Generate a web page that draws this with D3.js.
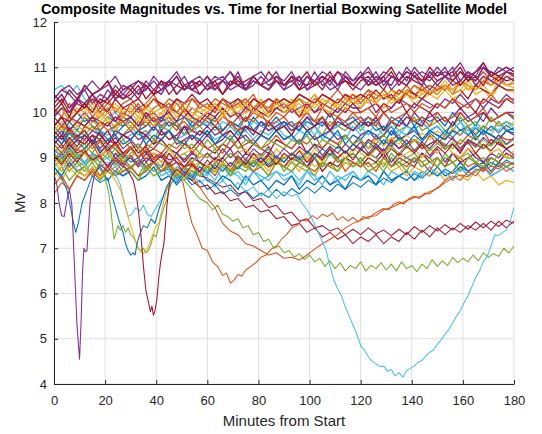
<!DOCTYPE html>
<html>
<head>
<meta charset="utf-8">
<script src="https://cdn.jsdelivr.net/npm/d3@7"></script>
<style>
body { margin: 0; background: #fff; }
svg text { font-family: "Liberation Sans", Arial, sans-serif; }
</style>
</head>
<body>
<svg width="542" height="434"></svg>
<script>
// sample times (minutes) for the band traces
var minutes = [0,3,6,9,12,15,18,21,24,27,30,33,36,39,42,45,48,51,54,57,60,63,66,69,72,75,78,81,84,87,90,93,96,99,102,105,108,111,114,117,120,123,126,129,132,135,138,141,144,147,150,153,156,159,162,165,168,171,174,177,180];
var xTicks = [0,20,40,60,80,100,120,140,160,180];
var yTicks = [4,5,6,7,8,9,10,11,12];

// matlab default colour order
var palette = {
    blue: "#0072BD", orange: "#D95319", yellow: "#EDB120", purple: "#7E2F8E",
    green: "#77AC30", cyan: "#4DBEEE", red: "#A2142F"
};

// top group (~10.5 - 11)
var topGroup = [
    [10.3,10.5,10.4,10.2,10.6,10.4,10.5,10.7,10.3,10.5, 10.6,10.4,10.7,10.5,10.4,10.7,10.6,10.8,10.5,10.6, 10.8,10.5,10.7,10.6,10.9,10.5,10.6,10.8,10.6,10.7, 10.5,10.8,10.7,10.6,10.9,10.6,10.7,10.5,10.8,10.7, 10.9,10.6,10.8,10.7,10.6,10.9,10.7,11.0,10.8,10.7, 10.9,10.8,11.0,10.7,10.9,10.8,11.1,10.8,10.9,11.0, 10.9],
    [10.0,10.2,9.9,10.3,10.1,10.4,10.2,10.3,10.5,10.3, 10.4,10.6,10.3,10.5,10.7,10.4,10.6,10.5,10.7,10.4, 10.6,10.7,10.4,10.6,10.8,10.5,10.7,10.6,10.5,10.8, 10.6,10.7,10.5,10.8,10.6,10.7,10.9,10.6,10.7,10.5, 10.7,10.8,10.6,10.7,10.9,10.6,10.8,10.7,10.6,10.9, 10.7,10.8,10.9,10.6,10.8,10.7,11.0,10.8,10.7,10.9, 10.8],
    [9.9,10.1,10.0,10.3,10.2,10.4,10.2,10.5,10.3,10.4, 10.6,10.4,10.5,10.7,10.5,10.6,10.8,10.5,10.6,10.7, 10.5,10.7,10.8,10.6,10.7,10.5,10.8,10.6,10.7,10.9, 10.6,10.7,10.8,10.5,10.7,10.8,10.6,10.9,10.7,10.6, 10.8,10.7,10.9,10.6,10.8,10.7,10.9,10.8,10.6,10.9, 10.8,11.0,10.7,10.9,10.8,10.7,11.0,10.9,10.8,10.9, 10.85],
    [9.7,9.9,9.8,10.0,10.2,10.0,10.3,10.2,10.4,10.3, 10.5,10.3,10.6,10.4,10.5,10.7,10.4,10.6,10.5,10.7, 10.5,10.6,10.4,10.7,10.6,10.5,10.8,10.6,10.5,10.7, 10.6,10.8,10.5,10.6,10.7,10.5,10.8,10.6,10.7,10.6, 10.8,10.6,10.7,10.5,10.8,10.7,10.6,10.9,10.7,10.8, 10.6,10.8,10.7,10.9,10.7,10.8,10.6,10.9,10.8,10.7, 10.75],
    [10.2,10.4,10.1,10.3,10.5,10.2,10.4,10.3,10.6,10.4, 10.3,10.5,10.6,10.4,10.5,10.7,10.4,10.6,10.5,10.4, 10.6,10.5,10.7,10.5,10.6,10.5,10.7,10.6,10.5,10.7, 10.5,10.6,10.8,10.5,10.6,10.7,10.5,10.6,10.8,10.6, 10.5,10.7,10.6,10.8,10.5,10.7,10.6,10.8,10.7,10.5, 10.7,10.8,10.6,10.7,10.9,10.6,10.8,10.7,10.6,10.8, 10.7],
    [10.4,10.2,10.5,10.3,10.6,10.4,10.5,10.7,10.4,10.6, 10.5,10.7,10.6,10.4,10.7,10.6,10.8,10.5,10.7,10.6, 10.8,10.6,10.7,10.9,10.6,10.7,10.8,10.6,10.9,10.7, 10.6,10.8,10.7,10.9,10.6,10.8,10.7,10.9,10.8,10.6, 10.8,10.9,10.7,10.8,11.0,10.7,10.9,10.8,10.7,11.0, 10.8,10.9,10.8,11.0,10.7,10.9,11.1,10.8,10.9,11.0, 10.9],
    [10.3,10.5,10.6,10.4,10.5,10.7,10.5,10.6,10.8,10.5, 10.6,10.7,10.5,10.8,10.6,10.7,10.9,10.6,10.7,10.8, 10.6,10.8,10.7,10.9,10.7,10.6,10.8,10.9,10.7,10.8, 10.7,10.9,10.6,10.8,10.7,10.9,10.8,10.6,10.9,10.7, 10.8,11.0,10.7,10.9,10.8,10.7,11.0,10.8,10.9,10.8, 11.0,10.8,10.9,11.1,10.8,10.9,11.0,10.8,11.0,10.9, 11.0]
];
var topColors = ["purple", "red", "purple", "red", "purple", "red", "purple"];

// orange / yellow group (~9.6 - 10.9)
var orangeGroup = [
    [9.9,10.1,9.8,10.0,10.2,9.9,10.1,10.0,9.8,10.1, 10.0,10.2,9.9,10.1,10.2,10.0,10.3,10.1,9.9,10.2, 10.1,10.0,10.3,10.1,10.2,10.0,10.3,10.2,10.1,10.3, 10.2,10.1,10.3,10.2,10.4,10.1,10.3,10.2,10.4,10.2, 10.3,10.5,10.2,10.4,10.3,10.5,10.4,10.3,10.6,10.4, 10.5,10.6,10.4,10.7,10.5,10.6,10.8,10.6,10.7,10.8, 10.7],
    [9.8,9.6,9.9,9.7,9.9,9.8,10.0,9.8,9.7,10.0, 9.9,10.1,9.8,10.0,10.1,9.9,10.2,10.0,9.9,10.1, 10.0,10.2,10.1,9.9,10.2,10.0,10.1,10.3,10.0,10.2, 10.1,10.3,10.0,10.2,10.1,10.3,10.2,10.1,10.3,10.2, 10.2,10.4,10.3,10.5,10.3,10.4,10.6,10.4,10.5,10.6, 10.5,10.7,10.5,10.6,10.8,10.6,10.7,10.9,10.7,10.8, 10.8],
    [10.2,10.4,10.1,10.3,10.2,10.4,10.1,10.3,10.0,10.2, 10.3,10.1,10.2,10.4,10.1,10.3,10.2,10.0,10.3,10.2, 10.1,10.3,10.2,10.1,10.3,10.2,10.4,10.1,10.3,10.2, 10.3,10.2,10.4,10.3,10.2,10.4,10.3,10.5,10.3,10.4, 10.3,10.5,10.4,10.3,10.5,10.4,10.6,10.4,10.5,10.6, 10.5,10.6,10.5,10.7,10.6,10.5,10.7,10.6,10.8,10.6, 10.65],
    [9.6,9.8,9.5,9.7,9.6,9.8,9.7,9.9,9.6,9.8, 9.7,9.9,9.8,9.7,10.0,9.8,9.9,10.0,9.8,9.9, 10.0,9.8,9.9,10.1,9.9,10.0,10.1,9.9,10.0,10.1, 10.0,10.2,9.9,10.1,10.0,10.2,10.1,10.0,10.2,10.1, 10.1,10.3,10.2,10.1,10.3,10.2,10.4,10.2,10.3,10.4, 10.3,10.5,10.3,10.4,10.6,10.4,10.5,10.3,10.6,10.5, 10.45],
    [9.7,9.9,9.6,9.8,9.7,9.9,9.8,9.7,9.9,9.8, 9.9,9.7,10.0,9.8,9.9,10.0,9.8,10.1,9.9,9.8, 10.0,9.9,10.1,9.9,10.0,9.8,10.1,10.0,9.9,10.1, 10.0,10.1,9.9,10.2,10.0,10.1,9.9,10.1,10.0,10.2, 10.0,10.1,10.2,10.0,10.1,10.3,10.0,10.2,10.1,10.0, 10.2,10.1,10.3,10.1,10.2,10.0,10.3,10.2,10.1,10.3, 10.2],
    [9.9,9.7,9.9,9.8,10.0,9.8,9.9,10.1,9.8,10.0, 9.9,10.1,9.9,10.0,9.8,10.1,10.0,9.9,10.1,10.0, 9.9,10.1,10.0,10.2,9.9,10.1,10.0,10.2,10.0,10.1, 10.2,10.0,10.1,10.2,10.0,10.2,10.1,10.0,10.2,10.1, 10.1,10.3,10.0,10.2,10.1,10.3,10.2,10.1,10.3,10.2, 10.1,10.3,10.2,10.4,10.2,10.3,10.1,10.3,10.2,10.4, 10.25],
    [9.5,9.7,9.6,9.4,9.7,9.6,9.8,9.6,9.7,9.8, 9.6,9.8,9.7,9.9,9.7,9.8,9.6,9.9,9.8,9.7, 9.9,9.8,10.0,9.7,9.9,9.8,10.0,9.9,9.8,10.0, 9.9,10.1,9.9,10.0,9.8,10.1,10.0,9.9,10.1,10.0, 10.0,10.1,9.9,10.2,10.0,10.1,10.2,10.0,10.2,10.1, 10.2,10.1,10.3,10.2,10.1,10.3,10.2,10.4,10.2,10.3, 10.3],
    [10.0,10.2,9.9,10.1,10.0,10.2,9.9,10.1,10.2,10.0, 10.1,9.9,10.2,10.0,10.1,10.2,10.0,10.2,10.1,10.0, 10.1,10.2,10.0,10.2,10.1,10.3,10.1,10.2,10.0,10.3, 10.2,10.1,10.3,10.2,10.4,10.2,10.3,10.1,10.3,10.4, 10.3,10.2,10.4,10.3,10.5,10.3,10.4,10.6,10.4,10.5, 10.4,10.6,10.5,10.7,10.5,10.6,10.8,10.6,10.7,10.6, 10.7],
    [10.1,10.3,10.0,10.2,10.1,10.3,10.2,10.0,10.3,10.1, 10.2,10.3,10.1,10.3,10.2,10.1,10.3,10.2,10.4,10.2, 10.3,10.1,10.3,10.2,10.3,10.1,10.3,10.2,10.3,10.2, 10.3,10.2,10.4,10.3,10.2,10.4,10.3,10.2,10.4,10.3, 10.4,10.3,10.5,10.3,10.4,10.2,10.5,10.4,10.3,10.5, 10.4,10.6,10.4,10.5,10.3,10.6,10.5,10.4,10.6,10.5, 10.5],
    [10.1,9.9,10.2,10.0,10.1,10.3,10.0,10.2,10.1,9.9, 10.2,10.0,10.1,10.3,10.1,10.2,10.0,10.2,10.3,10.1, 10.2,10.0,10.3,10.1,10.2,10.3,10.1,10.2,10.0,10.3, 10.1,10.2,10.3,10.1,10.3,10.2,10.1,10.3,10.2,10.4, 10.2,10.4,10.3,10.5,10.3,10.5,10.4,10.6,10.5,10.4, 10.6,10.5,10.7,10.6,10.8,10.7,10.9,10.7,10.8,10.9, 10.85],
    [9.9,10.1,9.8,10.0,9.9,10.1,9.8,10.0,10.1,9.9, 10.0,9.8,10.1,9.9,10.0,10.1,9.9,10.1,10.0,9.9, 10.0,10.2,9.9,10.1,10.0,10.2,10.0,10.1,9.9,10.2, 10.0,10.1,10.2,10.0,10.2,10.1,10.0,10.2,10.1,10.3, 10.1,10.3,10.2,10.4,10.2,10.3,10.5,10.3,10.4,10.5, 10.4,10.6,10.4,10.5,10.7,10.5,10.6,10.4,10.7,10.6, 10.55]
];
var orangeColors = ["orange", "yellow", "orange", "yellow", "red", "purple", "orange", "yellow", "red", "orange", "yellow"];

// middle group (~9.0 - 10.0)
var midGroup = [
    [9.7,9.5,9.8,9.6,9.9,9.7,9.6,9.8,9.5,9.7, 9.8,9.6,9.7,9.9,9.6,9.8,9.7,9.5,9.8,9.7, 9.9,9.7,9.6,9.8,9.7,9.9,9.6,9.8,9.7,9.9, 9.7,9.8,9.6,9.9,9.8,9.7,10.0,9.7,9.8,9.9, 9.7,9.9,9.8,9.6,9.9,9.8,10.0,9.7,9.9,9.8, 9.9,9.7,10.0,9.8,9.9,9.7,10.0,9.8,9.9,10.0, 9.85],
    [9.5,9.7,9.4,9.6,9.5,9.7,9.5,9.3,9.6,9.5, 9.7,9.5,9.6,9.4,9.7,9.6,9.8,9.5,9.6,9.7, 9.5,9.7,9.6,9.8,9.5,9.7,9.6,9.5,9.8,9.6, 9.7,9.5,9.8,9.6,9.7,9.5,9.8,9.7,9.6,9.8, 9.6,9.8,9.7,9.5,9.8,9.6,9.7,9.9,9.6,9.7, 9.8,9.6,9.7,9.9,9.7,9.8,9.6,9.9,9.7,9.8, 9.72],
    [9.6,9.4,9.7,9.5,9.6,9.3,9.6,9.5,9.7,9.4, 9.5,9.6,9.4,9.7,9.5,9.6,9.4,9.5,9.7,9.5, 9.6,9.4,9.5,9.7,9.5,9.6,9.4,9.6,9.5,9.7, 9.5,9.4,9.6,9.5,9.7,9.4,9.6,9.5,9.4,9.7, 9.5,9.6,9.4,9.7,9.5,9.6,9.5,9.7,9.4,9.6, 9.7,9.5,9.6,9.8,9.5,9.7,9.6,9.5,9.8,9.6, 9.65],
    [9.3,9.5,9.2,9.4,9.3,9.5,9.2,9.4,9.3,9.5, 9.4,9.2,9.5,9.3,9.4,9.6,9.3,9.4,9.5,9.3, 9.5,9.3,9.4,9.6,9.4,9.5,9.3,9.5,9.4,9.6, 9.4,9.5,9.3,9.6,9.4,9.5,9.6,9.4,9.5,9.3, 9.5,9.6,9.4,9.5,9.7,9.4,9.5,9.6,9.4,9.6, 9.5,9.4,9.6,9.5,9.7,9.4,9.6,9.5,9.4,9.6, 9.5],
    [9.2,9.0,9.3,9.1,9.2,9.4,9.1,9.3,9.2,9.0, 9.2,9.3,9.1,9.2,9.4,9.2,9.1,9.3,9.2,9.4, 9.2,9.1,9.3,9.2,9.4,9.1,9.3,9.2,9.1,9.4, 9.3,9.2,9.4,9.1,9.3,9.2,9.4,9.3,9.1,9.3, 9.2,9.4,9.3,9.1,9.4,9.2,9.3,9.4,9.2,9.3, 9.4,9.2,9.3,9.1,9.4,9.3,9.2,9.4,9.3,9.2, 9.3],
    [9.9,10.1,9.8,10.0,9.8,9.9,9.7,9.9,9.8,9.7, 9.9,9.7,9.8,9.6,9.9,9.7,9.8,9.9,9.7,9.8, 9.7,9.9,9.6,9.8,9.7,9.6,9.9,9.7,9.8,9.6, 9.8,9.7,9.6,9.8,9.7,9.9,9.6,9.7,9.8,9.6, 9.7,9.8,9.6,9.7,9.5,9.8,9.7,9.6,9.8,9.6, 9.7,9.5,9.8,9.6,9.7,9.5,9.7,9.6,9.8,9.6, 9.65],
    [9.1,8.9,9.2,9.0,9.2,8.9,9.1,9.0,9.2,8.9, 9.1,9.2,9.0,9.1,8.9,9.2,9.0,9.1,8.9,9.1, 9.0,9.2,8.9,9.1,9.0,8.8,9.1,9.0,9.2,8.9, 9.0,9.1,8.9,9.1,9.0,8.8,9.1,8.9,9.0,9.1, 8.9,9.1,9.0,8.8,9.1,8.9,9.0,9.1,8.9,9.0, 8.8,9.1,8.9,9.0,9.1,8.9,9.0,8.8,9.1,9.0, 8.98],
    [9.1,9.3,9.0,9.2,9.1,9.3,9.0,9.2,9.3,9.1, 9.2,9.0,9.3,9.2,9.1,9.3,9.2,9.4,9.1,9.3, 9.2,9.3,9.1,9.4,9.2,9.3,9.4,9.2,9.3,9.5, 9.3,9.2,9.4,9.3,9.5,9.2,9.4,9.3,9.5,9.3, 9.4,9.2,9.5,9.3,9.4,9.5,9.3,9.4,9.2,9.5, 9.3,9.5,9.4,9.3,9.5,9.4,9.6,9.3,9.5,9.4, 9.4],
    [9.0,8.8,9.1,8.9,9.1,8.9,9.0,9.2,8.9,9.1, 9.0,9.2,9.0,9.1,8.9,9.2,9.0,9.1,9.2,9.0, 9.1,8.9,9.2,9.0,9.1,9.2,9.0,9.1,8.9,9.2, 9.0,9.1,9.2,9.0,9.1,8.9,9.2,9.1,9.0,9.2, 9.1,9.0,9.2,9.1,9.3,9.0,9.1,9.2,9.0,9.2, 9.1,9.3,9.1,9.0,9.2,9.1,9.3,9.1,9.2,9.0, 9.15],
    [10.5,10.6,10.4,10.6,10.3,10.1,10.0,9.9,10.0,9.8, 9.9,9.7,9.9,9.8,9.7,9.9,9.8,9.6,9.9,9.7, 9.8,9.6,9.8,9.7,9.9,9.6,9.8,9.7,9.6,9.8, 9.7,9.6,9.8,9.7,9.5,9.8,9.6,9.7,9.8,9.6, 9.7,9.5,9.8,9.6,9.7,9.5,9.7,9.6,9.8,9.6, 9.7,9.5,9.6,9.8,9.6,9.7,9.5,9.7,9.6,9.8, 9.65],
    [9.4,9.6,9.3,9.5,9.4,9.6,9.5,9.3,9.6,9.5, 9.6,9.4,9.5,9.7,9.5,9.6,9.4,9.7,9.6,9.5, 9.7,9.5,9.6,9.8,9.6,9.7,9.5,9.8,9.6,9.7, 9.8,9.6,9.7,9.9,9.7,9.8,9.6,9.9,9.7,9.8, 9.9,9.7,9.8,10.0,9.8,9.9,9.7,10.0,9.8,9.9, 10.0,9.8,9.9,10.1,9.9,10.0,9.8,10.1,9.9,10.0, 10.0],
    [9.3,9.5,9.2,9.4,9.3,9.5,9.4,9.6,9.3,9.5, 9.4,9.6,9.5,9.3,9.6,9.4,9.5,9.7,9.4,9.6, 9.5,9.7,9.5,9.6,9.4,9.7,9.6,9.5,9.8,9.6, 9.7,9.5,9.8,9.6,9.7,9.9,9.6,9.8,9.7,9.6, 9.8,9.7,9.9,9.6,9.8,9.7,9.9,9.8,9.7,10.0, 9.8,9.9,9.7,10.0,9.8,9.9,10.0,9.8,9.9,10.0, 9.9],
    [9.5,9.3,9.6,9.4,9.5,9.3,9.6,9.4,9.5,9.3, 9.4,9.6,9.3,9.5,9.4,9.6,9.4,9.3,9.5,9.4, 9.6,9.3,9.5,9.4,9.6,9.4,9.3,9.5,9.4,9.6, 9.4,9.5,9.3,9.6,9.4,9.5,9.4,9.6,9.3,9.5, 9.4,9.6,9.5,9.3,9.6,9.4,9.5,9.7,9.4,9.6, 9.5,9.4,9.6,9.5,9.7,9.4,9.6,9.5,9.4,9.6, 9.55],
    [9.3,9.1,9.4,9.2,9.3,9.1,9.4,9.3,9.2,9.4, 9.2,9.3,9.1,9.4,9.3,9.2,9.4,9.2,9.3,9.1, 9.4,9.2,9.3,9.5,9.2,9.4,9.3,9.2,9.4,9.3, 9.2,9.4,9.3,9.5,9.2,9.4,9.3,9.2,9.5,9.3, 9.4,9.2,9.3,9.5,9.3,9.4,9.2,9.4,9.3,9.2, 9.4,9.3,9.2,9.4,9.3,9.5,9.2,9.3,9.4,9.2, 9.3],
    [9.7,9.9,9.6,9.8,9.7,9.9,9.6,9.8,9.7,9.9, 9.8,9.6,9.9,9.7,9.8,9.9,9.7,9.8,9.6,9.9, 9.8,9.7,9.9,9.8,9.6,9.9,9.8,10.0,9.7,9.8, 9.9,9.7,9.8,10.0,9.8,9.9,9.7,9.9,9.8,10.0, 9.8,9.9,9.7,10.0,9.8,9.9,10.0,9.8,9.9,9.7, 10.0,9.8,9.9,10.0,9.8,9.9,10.1,9.8,9.9,10.0, 9.9]
];
var midColors = ["blue", "green", "cyan", "purple", "red", "blue", "green", "orange", "yellow", "cyan", "purple", "red", "blue", "green", "orange"];

// low group (~8.3 - 9.2)
var lowGroup = [
    [8.9,8.7,9.0,8.8,8.9,8.6,8.9,8.7,8.8,8.6, 8.8,8.6,8.7,8.9,8.6,8.7,8.5,8.8,8.6,8.7, 8.6,8.8,8.5,8.7,8.6,8.4,8.7,8.5,8.6,8.7, 8.5,8.6,8.4,8.7,8.5,8.6,8.4,8.6,8.5,8.7, 8.5,8.6,8.4,8.7,8.5,8.6,8.7,8.5,8.6,8.8, 8.6,8.7,8.5,8.8,8.6,8.7,8.8,8.6,8.7,8.8, 8.7],
    [8.8,8.6,8.9,8.7,8.8,8.6,8.8,8.5,8.7,8.6, 8.7,8.5,8.6,8.8,8.5,8.6,8.4,8.6,8.5,8.7, 8.5,8.4,8.6,8.5,8.3,8.6,8.4,8.5,8.3,8.5, 8.4,8.6,8.3,8.5,8.4,8.6,8.4,8.5,8.3,8.6, 8.5,8.6,8.4,8.7,8.5,8.6,8.7,8.5,8.7,8.6, 8.8,8.6,8.7,8.9,8.7,8.8,8.9,8.7,8.9,8.8, 8.9],
    [8.8,9.0,8.7,8.9,8.7,8.9,8.6,8.8,8.9,8.7, 8.8,8.6,8.9,8.7,8.8,8.9,8.7,8.8,8.6,8.9, 8.7,8.9,8.8,8.6,8.9,8.8,8.7,8.9,8.8,9.0, 8.7,8.9,8.8,8.7,9.0,8.8,8.9,8.7,8.9,8.8, 9.0,8.8,8.9,8.7,9.0,8.8,8.9,9.0,8.8,8.9, 8.8,9.0,8.9,8.7,9.0,8.9,8.8,9.0,8.9,8.8, 8.9],
    [8.7,8.5,8.8,8.6,8.8,8.6,8.9,8.7,8.8,9.0, 8.8,8.9,8.7,9.0,8.8,8.9,8.7,9.0,8.8,8.9, 8.8,9.0,8.7,8.9,8.8,9.0,8.8,8.9,8.7,9.0, 8.8,8.9,8.7,9.0,8.8,8.9,8.8,8.7,8.9,8.8, 8.9,8.7,8.8,8.9,8.7,8.8,8.6,8.8,8.7,8.6, 8.7,8.5,8.7,8.6,8.5,8.7,8.5,8.6,8.4,8.5, 8.45],
    [9.1,8.9,9.2,9.0,9.1,8.9,9.0,8.8,9.1,8.9, 9.0,8.8,9.0,8.9,8.8,9.1,8.9,8.8,9.0,8.9, 8.8,9.0,8.9,8.7,9.0,8.8,8.9,9.0,8.8,8.9, 8.8,9.0,8.9,8.8,9.0,8.7,8.9,8.8,9.0,8.9, 8.8,9.0,8.9,9.1,8.8,9.0,8.9,8.8,9.1,8.9, 9.0,8.8,9.1,8.9,9.0,9.1,8.9,9.0,8.9,9.1, 9.0],
    [8.9,9.1,8.8,9.0,8.9,9.1,9.0,9.2,8.9,9.1, 9.0,9.2,8.9,9.1,9.0,9.2,9.1,8.9,9.1,9.0, 9.1,8.9,9.0,9.2,8.9,9.1,9.0,8.9,9.1,9.0, 8.9,9.1,9.0,8.8,9.1,9.0,9.2,8.9,9.0,9.1, 8.9,9.1,9.0,9.2,8.9,9.1,9.0,8.9,9.1,9.0, 9.2,8.9,9.1,9.0,9.2,9.0,8.9,9.1,9.0,9.2, 9.05],
    [9.2,9.0,9.3,9.1,8.9,9.1,8.9,9.0,8.8,8.9, 8.8,8.9,8.7,8.9,8.8,8.6,8.8,8.7,8.6,8.8, 8.7,8.5,8.8,8.6,8.7,8.5,8.7,8.6,8.5,8.7, 8.6,8.7,8.5,8.7,8.6,8.4,8.7,8.5,8.6,8.7, 8.5,8.7,8.6,8.4,8.7,8.6,8.5,8.7,8.6,8.8, 8.6,8.7,8.5,8.8,8.6,8.7,8.8,8.6,8.7,8.8, 8.7],
    [8.4,8.6,8.3,8.6,8.5,8.7,8.5,8.8,8.6,8.7, 8.8,8.6,8.7,8.9,8.7,8.8,8.6,8.8,8.9,8.7, 8.8,8.6,8.9,8.7,8.8,8.9,8.7,8.8,8.6,8.9, 8.8,8.7,8.9,8.8,8.7,8.9,8.8,9.0,8.7,8.9, 8.8,8.9,8.7,9.0,8.8,8.9,8.8,9.0,8.9,8.7, 9.0,8.8,8.9,9.0,8.8,8.9,8.7,9.0,8.9,8.8, 8.9],
    [8.6,8.8,8.5,8.7,8.6,8.8,8.5,8.7,8.6,8.8, 8.7,8.5,8.8,8.6,8.7,8.9,8.6,8.8,8.7,8.6, 8.8,8.7,8.9,8.6,8.8,8.7,8.9,8.8,8.6,8.9, 8.8,8.7,8.9,8.8,8.6,8.9,8.8,8.7,9.0,8.8, 8.9,8.7,8.8,9.0,8.8,8.9,8.7,9.0,8.8,8.9, 9.0,8.8,8.9,8.7,9.0,8.9,8.8,9.0,8.9,8.8, 8.9]
];
var lowColors = ["cyan", "blue", "green", "yellow", "red", "purple", "cyan", "orange", "green"];

// traces that leave the band: [minute, magnitude]
var purpleDip = [[0,8.62],[1,8.45],[2,8.0],[3,7.72],[4,7.7],[5,8.05],[6,8.3],[7,7.95],[8,6.6],[9,5.3],[10,4.55],[10.6,5.4],[11.2,6.5],[11.7,7.0],[12.3,6.92],[12.9,6.95],[13.5,7.5],[14.2,8.05],[15,8.4],[16,8.65],[18,8.85],[21,8.7],[24,8.95],[27,8.8],[30,9.05],[33,8.85],[36,9.1],[39,8.9],[42,9.05],[45,8.85],[48,9.1],[51,8.95],[54,9.15],[57,8.9],[60,9.1],[63,8.95],[66,9.2],[69,9.0],[72,9.15],[75,8.95],[78,9.2],[81,9.05],[84,9.25],[87,9.0],[90,9.2],[93,9.05],[96,9.25],[99,9.1],[102,9.3],[105,9.05],[108,9.25],[111,9.1],[114,9.3],[117,9.15],[120,9.35],[123,9.1],[126,9.3],[129,9.15],[132,9.35],[135,9.2],[138,9.4],[141,9.15],[144,9.35],[147,9.2],[150,9.4],[153,9.25],[156,9.45],[159,9.2],[162,9.4],[165,9.25],[168,9.45],[171,9.3],[174,9.5],[177,9.3],[180,9.45]];

var redDip = [[0,9.05],[3,8.85],[6,9.1],[9,8.9],[12,9.15],[15,8.95],[18,9.05],[21,8.8],[24,9.0],[27,8.85],[29,8.7],[31,8.5],[32,8.25],[33,7.85],[34,7.3],[35,6.6],[36,6.05],[37,5.8],[37.7,5.6],[38.3,5.72],[38.9,5.52],[39.5,5.62],[40.2,5.85],[41,6.35],[41.6,6.65],[42.3,6.9],[43,7.1],[43.6,7.5],[44.2,7.95],[45,8.35],[46,8.6],[48,8.75],[51,8.6],[54,8.85],[57,8.7],[60,8.95],[63,8.75],[66,9.0],[69,8.8],[72,9.05],[75,8.85],[78,9.1],[81,8.9],[84,9.05],[87,8.85],[90,9.1],[93,8.95],[96,9.15],[99,8.9],[102,9.1],[105,8.95],[108,9.2],[111,9.0],[114,9.15],[117,8.95],[120,9.2],[123,9.05],[126,9.25],[129,9.0],[132,9.2],[135,9.05],[138,9.25],[141,9.1],[144,9.3],[147,9.05],[150,9.25],[153,9.1],[156,9.3],[159,9.15],[162,9.35],[165,9.1],[168,9.3],[171,9.15],[174,9.35],[177,9.2],[180,9.3]];

var blueDip = [[0,8.8],[3,8.55],[5,8.3],[6.5,7.9],[7.5,7.6],[8.5,7.35],[9.5,7.55],[11,8.0],[13,8.3],[15,8.6],[18,8.45],[21,8.55],[22.5,8.2],[24,7.9],[25.5,7.6],[27,7.35],[28,7.1],[29,6.95],[30,6.85],[31,6.9],[31.7,6.85],[32.5,7.1],[33.5,7.3],[35,7.5],[36.5,7.45],[38,7.65],[39.5,7.55],[41,7.85],[42.5,8.1],[44,8.35],[46,8.55],[48,8.45],[51,8.7],[54,8.55],[57,8.8],[60,8.65],[63,8.85],[66,8.7],[69,8.9],[72,8.75],[75,8.95],[78,8.8],[81,9.0],[84,8.85],[87,9.05],[90,8.9],[93,9.1],[96,8.95],[99,9.15],[102,9.0],[105,9.2],[108,9.05],[111,9.25],[114,9.1],[117,9.3],[120,9.15],[123,9.35],[126,9.2],[129,9.4],[132,9.25],[135,9.45],[138,9.3],[141,9.5],[144,9.35],[147,9.55],[150,9.4],[153,9.6],[156,9.45],[159,9.62],[162,9.5],[165,9.65],[168,9.52],[171,9.7],[174,9.55],[177,9.72],[180,9.6]];

var yellowDip = [[0,8.9],[3,8.7],[6,8.95],[9,8.75],[12,8.6],[15,8.8],[18,8.55],[21,8.7],[24,8.5],[26,8.3],[27.5,8.0],[29,7.7],[30.5,7.4],[32,7.15],[33,7.0],[34,6.92],[35,6.88],[36,6.95],[37,7.05],[38,7.2],[39,7.35],[40,7.5],[41,7.55],[42,7.8],[43,8.05],[44.5,8.35],[46,8.55],[48,8.7],[51,8.55],[54,8.8],[57,8.62],[60,8.85],[63,8.7],[66,8.9],[69,8.75],[72,8.95],[75,8.8],[78,9.0],[81,8.85],[84,9.05],[87,8.9],[90,9.1],[93,8.95],[96,9.15],[99,9.0],[102,9.2],[105,9.05],[108,9.25],[111,9.1],[114,9.3],[117,9.15],[120,9.35],[123,9.2],[126,9.4],[129,9.25],[132,9.45],[135,9.3],[138,9.5],[141,9.35],[144,9.55],[147,9.4],[150,9.6],[153,9.45],[156,9.65],[159,9.5],[162,9.7],[165,9.55],[168,9.72],[171,9.6],[174,9.78],[177,9.65],[180,9.8]];

var greenDip = [[0,9.1],[3,8.9],[6,9.15],[9,8.95],[12,8.8],[15,9.0],[18,8.75],[20,8.55],[21.5,8.2],[22.5,7.7],[23.5,7.2],[24.3,7.35],[25,7.5],[26,7.4],[27,7.5],[28,7.35],[29,7.45],[30,7.3],[31,7.25],[32,7.15],[33,6.98],[34,6.95],[35,7.0],[36,6.9],[37,6.95],[38,7.1],[39,7.3],[40,7.25],[41,7.5],[42,7.7],[43,7.9],[44,8.05],[45,8.3],[46.5,8.5],[48,8.65],[51,8.5],[54,8.72],[57,8.6],[60,8.8],[63,8.68],[66,8.85],[69,8.7],[72,8.9],[75,8.78],[78,8.95],[81,8.8],[84,8.98],[87,8.85],[90,9.0],[93,8.88],[96,9.05],[99,8.9],[102,9.08],[105,8.95],[108,9.1],[111,8.98],[114,9.15],[117,9.0],[120,9.18],[123,9.05],[126,9.2],[129,9.08],[132,9.25],[135,9.1],[138,9.28],[141,9.12],[144,9.3],[147,9.15],[150,9.32],[153,9.18],[156,9.35],[159,9.2],[162,9.38],[165,9.22],[168,9.4],[171,9.25],[174,9.42],[177,9.28],[180,9.4]];

var orangeDeep = [[0,8.2],[3,8.45],[6,8.3],[9,8.6],[12,8.5],[15,8.75],[18,8.6],[21,8.85],[24,8.7],[27,8.9],[30,8.75],[33,8.95],[36,8.8],[39,8.9],[42,8.7],[45,8.85],[48,8.65],[50.5,8.45],[52,8.0],[54,7.55],[56,7.3],[58,7.0],[60,6.95],[62,6.7],[64,6.6],[66,6.4],[67.5,6.45],[69,6.23],[70.5,6.3],[72,6.42],[73.5,6.38],[75,6.52],[77,6.6],[79,6.68],[81,6.8],[83,6.85],[85,6.98],[87,7.05],[89,7.2],[91,7.3],[93,7.45],[95,7.5],[97,7.62],[99,7.6],[101,7.72],[103,7.65],[105,7.75],[107,7.7],[109,7.78],[111,7.62],[113,7.7],[115,7.6],[117,7.68],[119,7.58],[121,7.7],[123,7.65],[125,7.75],[127,7.82],[129,7.88],[131,7.85],[133,7.98],[135,8.02],[137,7.98],[139,8.1],[141,8.15],[143,8.1],[145,8.22],[147,8.2],[149,8.3],[151,8.38],[153,8.5],[156,8.6],[159,8.5],[162,8.7],[165,8.6],[168,8.8],[171,8.65],[174,8.85],[177,8.7],[180,8.8]];

var orangeShallow = [[0,9.3],[3,9.1],[6,9.35],[9,9.15],[12,9.4],[15,9.2],[18,9.35],[21,9.1],[24,9.3],[27,9.05],[30,9.25],[33,9.0],[36,9.2],[39,8.95],[42,9.1],[45,8.85],[48,9.0],[51,8.75],[54,8.6],[57,8.35],[60,8.1],[63,7.9],[66,7.55],[69,7.38],[72,7.3],[75,7.1],[78,7.05],[81,6.95],[84,6.85],[87,6.9],[90,6.78],[93,6.8],[96,6.74],[99,6.85],[102,6.98],[105,7.1],[108,7.2],[111,7.3],[114,7.45],[117,7.55],[120,7.62],[123,7.7],[126,7.72],[129,7.85],[132,7.9],[135,7.98],[138,8.05],[141,8.12],[144,8.15],[147,8.25],[150,8.32],[153,8.45],[156,8.55],[159,8.62],[162,8.58],[165,8.75],[168,8.7],[171,8.82],[174,8.75],[177,8.9],[180,8.85]];

var greenLow = [[0,8.95],[3,9.15],[6,8.9],[9,9.1],[12,8.85],[15,9.05],[18,8.9],[21,9.1],[24,8.85],[27,9.0],[30,8.8],[33,8.95],[36,8.75],[39,8.9],[42,8.7],[45,8.8],[48,8.6],[51,8.5],[54,8.3],[57,8.1],[60,8.0],[62,7.85],[64,7.95],[66,7.75],[68,7.7],[70,7.6],[72,7.65],[74,7.45],[76,7.5],[78,7.3],[80,7.35],[82,7.15],[84,7.2],[86,7.0],[88,7.05],[90,6.9],[92,6.95],[94,6.8],[96,6.88],[98,6.75],[100,6.85],[102,6.7],[104,6.78],[106,6.6],[108,6.72],[110,6.55],[112,6.68],[114,6.5],[116,6.62],[118,6.55],[120,6.7],[122,6.5],[124,6.62],[126,6.55],[128,6.68],[130,6.52],[132,6.65],[134,6.5],[136,6.7],[138,6.55],[140,6.62],[142,6.48],[144,6.65],[146,6.55],[148,6.75],[150,6.6],[152,6.72],[154,6.62],[156,6.8],[158,6.68],[160,6.78],[162,6.7],[164,6.85],[166,6.72],[168,6.9],[170,6.8],[172,6.88],[174,6.82],[176,7.0],[178,6.9],[180,7.05]];

var redLowA = [[0,9.4],[3,9.2],[6,9.45],[9,9.25],[12,9.5],[15,9.3],[18,9.4],[21,9.15],[24,9.35],[27,9.1],[30,9.25],[33,9.0],[36,9.15],[39,8.9],[42,9.05],[45,8.8],[48,8.9],[51,8.65],[54,8.5],[57,8.35],[60,8.4],[63,8.2],[66,8.25],[69,8.05],[72,8.1],[75,7.9],[78,7.95],[81,7.8],[84,7.85],[87,7.65],[90,7.7],[93,7.5],[96,7.55],[99,7.35],[102,7.45],[105,7.25],[108,7.35],[111,7.2],[114,7.3],[117,7.1],[120,7.25],[123,7.15],[126,7.3],[129,7.1],[132,7.25],[135,7.15],[138,7.35],[141,7.2],[144,7.4],[147,7.25],[150,7.45],[153,7.3],[156,7.45],[159,7.35],[162,7.5],[165,7.4],[168,7.55],[171,7.4],[174,7.6],[177,7.45],[180,7.6]];

var redLowB = [[0,9.6],[3,9.4],[6,9.65],[9,9.45],[12,9.6],[15,9.35],[18,9.55],[21,9.3],[24,9.45],[27,9.2],[30,9.35],[33,9.1],[36,9.25],[39,9.0],[42,9.1],[45,8.95],[48,9.0],[51,8.8],[54,8.85],[57,8.6],[60,8.55],[63,8.45],[66,8.35],[69,8.4],[72,8.2],[75,8.25],[78,8.05],[81,8.1],[84,7.9],[87,7.95],[90,7.75],[93,7.8],[96,7.6],[99,7.65],[102,7.45],[105,7.5],[108,7.38],[111,7.45],[114,7.3],[117,7.42],[120,7.3],[123,7.45],[126,7.32],[129,7.4],[132,7.28],[135,7.42],[138,7.3],[141,7.48],[144,7.35],[147,7.5],[150,7.38],[153,7.52],[156,7.4],[159,7.55],[162,7.42],[165,7.58],[168,7.45],[171,7.6],[174,7.48],[177,7.62],[180,7.55]];

var cyanDeep = [[0,9.2],[3,9.0],[6,9.25],[9,9.05],[12,8.85],[15,9.0],[18,8.8],[21,8.9],[24,8.65],[26,8.4],[27.5,8.0],[29,7.7],[30.5,7.75],[32,7.9],[33.5,7.82],[35,7.95],[36.5,7.75],[38,7.7],[39.5,7.85],[41,8.0],[42.5,8.12],[44,8.3],[46,8.45],[48,8.6],[51,8.5],[54,8.65],[57,8.45],[60,8.55],[63,8.35],[66,8.5],[69,8.3],[72,8.45],[75,8.25],[78,8.35],[81,8.15],[84,8.3],[87,8.1],[90,8.25],[93,8.15],[95,8.2],[97,8.0],[99,7.85],[101,7.65],[103,7.4],[105,7.15],[106.5,6.95],[108,6.6],[109.5,6.3],[111,6.1],[112.5,5.95],[114,5.7],[115.5,5.5],[117,5.3],[118.5,5.1],[120,4.85],[121.5,4.75],[123,4.6],[124.5,4.5],[126,4.45],[127.5,4.38],[129,4.4],[130.5,4.28],[132,4.32],[133.5,4.18],[135,4.25],[136.5,4.15],[138,4.3],[139.5,4.35],[141,4.4],[142.5,4.48],[144,4.52],[145.5,4.62],[147,4.7],[148.5,4.75],[150,4.88],[151.5,4.98],[153,5.1],[154.5,5.2],[156,5.35],[157.5,5.5],[159,5.62],[160.5,5.8],[162,5.95],[163.5,6.15],[165,6.35],[166.5,6.5],[168,6.7],[169.5,6.82],[171,7.05],[172.5,7.3],[174,7.28],[175.5,7.35],[177,7.4],[178.5,7.6],[180,7.9]];

var blueLow = [[0,9.5],[3,9.3],[6,9.55],[9,9.35],[12,9.2],[15,9.4],[18,9.15],[21,9.25],[24,9.0],[27,9.1],[30,8.9],[33,9.0],[36,8.8],[39,8.9],[42,8.7],[45,8.75],[48,8.55],[51,8.6],[54,8.4],[57,8.5],[60,8.3],[63,8.4],[66,8.2],[69,8.3],[72,8.15],[75,8.28],[78,8.1],[81,8.22],[84,8.12],[87,8.3],[90,8.15],[93,8.32],[96,8.2],[99,8.35],[102,8.22],[105,8.38],[108,8.25],[111,8.42],[114,8.3],[117,8.45],[120,8.35],[123,8.5],[126,8.4],[129,8.55],[132,8.45],[135,8.6],[138,8.5],[141,8.65],[144,8.55],[147,8.7],[150,8.6],[153,8.75],[156,8.65],[159,8.8],[162,8.7],[165,8.85],[168,8.75],[171,8.9],[174,8.8],[177,8.95],[180,8.85]];

var outliers = [
    {color: "blue", pts: blueLow},
    {color: "red", pts: redLowB},
    {color: "red", pts: redLowA},
    {color: "green", pts: greenLow},
    {color: "orange", pts: orangeShallow},
    {color: "orange", pts: orangeDeep},
    {color: "cyan", pts: cyanDeep},
    {color: "green", pts: greenDip},
    {color: "yellow", pts: yellowDip},
    {color: "blue", pts: blueDip},
    {color: "red", pts: redDip},
    {color: "purple", pts: purpleDip}
];

var svg = d3.select("svg");
var x = d3.scaleLinear().domain([0, 180]).range([54, 514]);
var y = d3.scaleLinear().domain([4, 12]).range([384, 22]);

// grid
svg.append("g").selectAll("line").data(xTicks).enter().append("line")
    .attr("x1", function(d) { return x(d); }).attr("x2", function(d) { return x(d); })
    .attr("y1", y(4)).attr("y2", y(12))
    .attr("stroke", "#dfdfdf").attr("stroke-width", 1);
svg.append("g").selectAll("line").data(yTicks).enter().append("line")
    .attr("y1", function(d) { return y(d); }).attr("y2", function(d) { return y(d); })
    .attr("x1", x(0)).attr("x2", x(180))
    .attr("stroke", "#dfdfdf").attr("stroke-width", 1);

svg.append("clipPath").attr("id", "plotclip").append("rect")
    .attr("x", x(0)).attr("y", y(12)).attr("width", x(180) - x(0)).attr("height", y(4) - y(12));

function bandSeries(rows, colors) {
    return rows.map(function(r, i) {
        var pts = r.filter(function(v, j) { return j < minutes.length; })
            .map(function(v, j) { return [minutes[j], v]; });
        return {color: colors[i], pts: pts, band: true};
    });
}

var allSeries = []
    .concat(bandSeries(lowGroup, lowColors))
    .concat(bandSeries(midGroup, midColors))
    .concat(bandSeries(orangeGroup, orangeColors))
    .concat(bandSeries(topGroup, topColors))
    .concat(outliers);

var line = d3.line()
    .x(function(d) { return x(d[0]); })
    .y(function(d) { return y(d[1]); });

svg.append("g").attr("clip-path", "url(#plotclip)")
    .selectAll(".trace").data(allSeries).enter().append("path")
    .attr("class", "trace")
    .attr("fill", "none")
    .attr("stroke", function(d) { return palette[d.color]; })
    .attr("stroke-width", function(d) { return d.band ? 1.3 : 1.05; })
    .attr("stroke-linejoin", "round")
    .attr("d", function(d) { return line(d.pts); });

// axes, ticks pointing inward like matlab
var xAxis = d3.axisBottom(x).tickValues(xTicks).tickSizeInner(-4).tickSizeOuter(0).tickPadding(12);
var yAxis = d3.axisLeft(y).tickValues(yTicks).tickSizeInner(-4).tickSizeOuter(0).tickPadding(7);

var gx = svg.append("g").attr("transform", "translate(0," + y(4) + ")").call(xAxis);
var gy = svg.append("g").attr("transform", "translate(" + x(0) + ",0)").call(yAxis);

[gx, gy].forEach(function(g) {
    g.select(".domain").attr("stroke", "#262626");
    g.selectAll(".tick line").attr("stroke", "#262626");
    g.selectAll(".tick text")
        .attr("fill", "#262626")
        .style("font-size", "13px")
        .style("font-family", "'Liberation Sans', Arial, sans-serif");
});

svg.append("text")
    .attr("x", 274).attr("y", 13.5)
    .attr("text-anchor", "middle")
    .style("font-size", "14.5px").style("font-weight", "bold")
    .attr("fill", "#000")
    .text("Composite Magnitudes vs. Time for Inertial Boxwing Satellite Model");

svg.append("text")
    .attr("x", 284).attr("y", 426)
    .attr("text-anchor", "middle")
    .style("font-size", "15px")
    .attr("fill", "#262626")
    .text("Minutes from Start");

svg.append("text")
    .attr("transform", "translate(25,203) rotate(-90)")
    .attr("text-anchor", "middle")
    .style("font-size", "15px")
    .attr("fill", "#262626")
    .text("Mv");
</script>
</body>
</html>
